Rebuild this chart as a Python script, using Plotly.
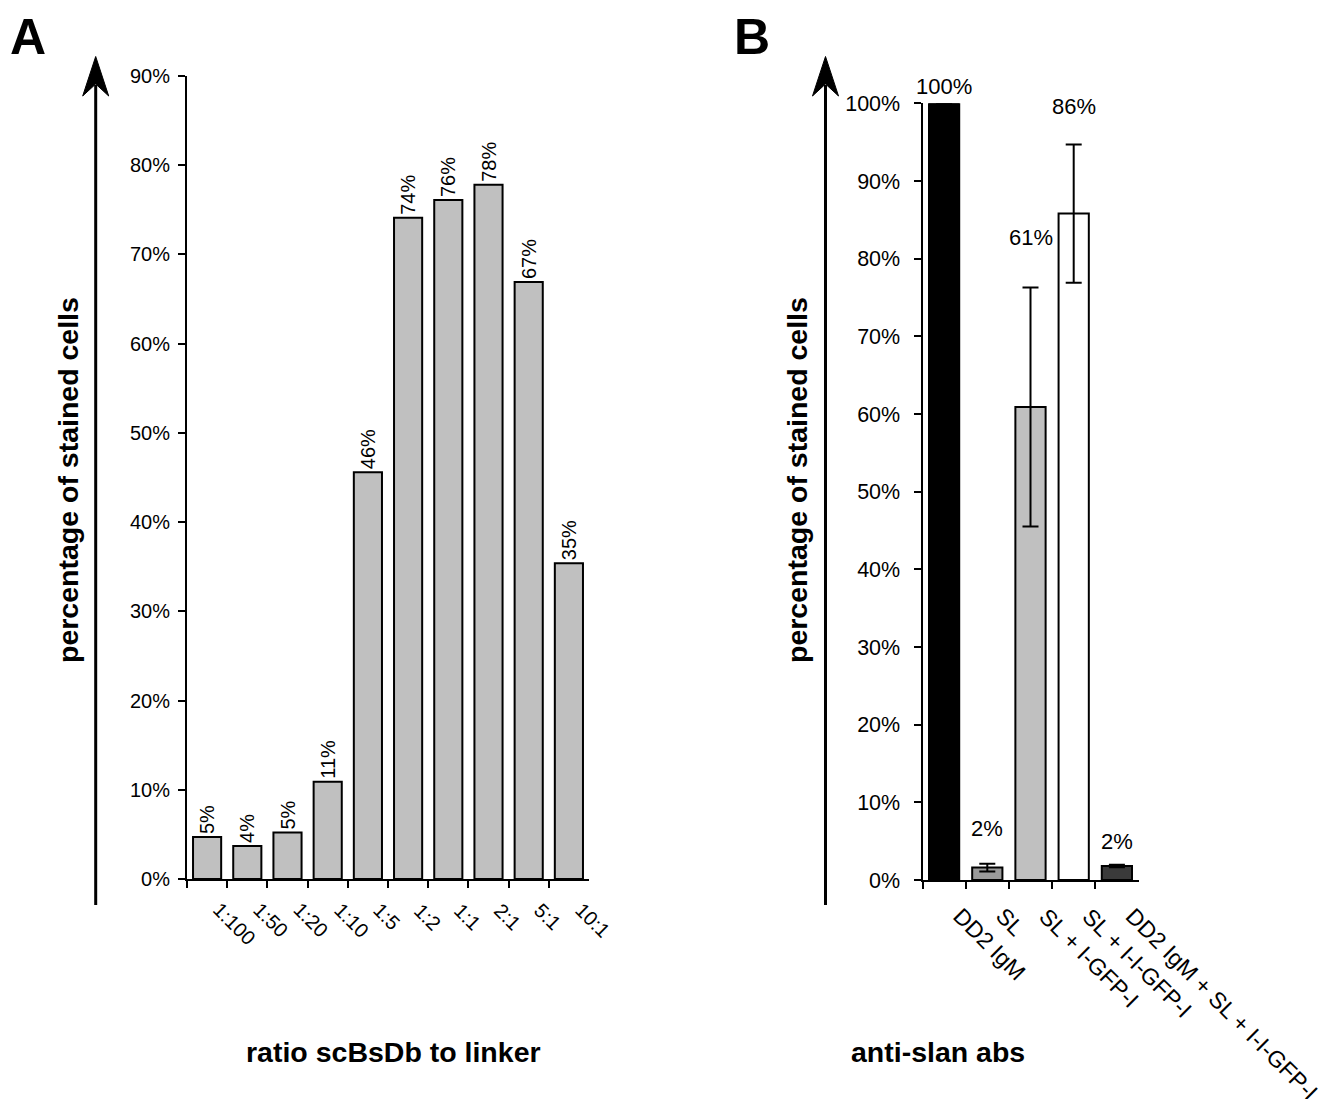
import plotly.graph_objects as go

# page body has an 8px default margin; the figure is sized/offset for it
OFF = 8
FW, FH = 1332 - 2 * OFF, 1107 - 2 * OFF

# Panel A data
ratios = ["1:100", "1:50", "1:20", "1:10", "1:5", "1:2", "1:1", "2:1", "5:1", "10:1"]
pct_a = [4.7, 3.7, 5.2, 10.9, 45.6, 74.1, 76.1, 77.8, 66.9, 35.4]
labels_a = ["5%", "4%", "5%", "11%", "46%", "74%", "76%", "78%", "67%", "35%"]

# Panel B data
abs_names = ["DD2 IgM", "SL", "SL + I-GFP-I", "SL + I-I-GFP-I", "DD2 IgM + SL + I-I-GFP-I"]
pct_b = [100.0, 1.6, 60.9, 85.8, 1.8]
err_b = [0.0, 0.5, 15.4, 8.9, 0.15]
labels_b = ["100%", "2%", "61%", "86%", "2%"]
colors_b = ["#000000", "#9a9a9a", "#c0c0c0", "#ffffff", "#3a3a3a"]
label_shift_b = [17, 35, 50, 38, 23]

yticks_a = [0, 10, 20, 30, 40, 50, 60, 70, 80, 90]
yticks_b = [0, 10, 20, 30, 40, 50, 60, 70, 80, 90, 100]

FONT = "Arial, Liberation Sans, sans-serif"


def px_x(x):
    return (x - OFF) / FW


def px_y(y):
    return 1 - (y - OFF) / FH


fig = go.Figure()

fig.add_trace(go.Bar(
    x=ratios, y=pct_a, text=labels_a, textposition="outside", textangle=-90,
    constraintext="none", cliponaxis=False,
    textfont=dict(family=FONT, size=20, color="black"),
    marker=dict(color="#c0c0c0", line=dict(color="black", width=2)),
    xaxis="x", yaxis="y", showlegend=False,
))

fig.add_trace(go.Bar(
    x=abs_names, y=pct_b,
    error_y=dict(type="data", array=err_b, visible=True, color="black", thickness=2, width=8),
    marker=dict(color=colors_b, line=dict(color="black", width=2)),
    xaxis="x2", yaxis="y2", showlegend=False,
))

annotations = []
for name, v, e, t, s in zip(abs_names, pct_b, err_b, labels_b, label_shift_b):
    annotations.append(dict(
        x=name, y=v + e, xref="x2", yref="y2", text=t, showarrow=False,
        xanchor="center", yanchor="middle", yshift=s,
        font=dict(family=FONT, size=22, color="black"),
    ))

# slanted category labels (drawn as annotations so they can sit like the original)
for r in ratios:
    annotations.append(dict(
        x=r, y=0, xref="x", yref="y", text=r, showarrow=False, textangle=45,
        xanchor="left", yanchor="top", xshift=-1, yshift=-17,
        font=dict(family=FONT, size=20, color="black"),
    ))
for n in abs_names:
    annotations.append(dict(
        x=n, y=0, xref="x2", yref="y2", text=n, showarrow=False, textangle=45,
        xanchor="left", yanchor="top", xshift=1, yshift=-20,
        font=dict(family=FONT, size=23, color="black"),
    ))


def paper_text(x, y, text, size, angle=0):
    return dict(x=px_x(x), y=px_y(y), xref="paper", yref="paper", text=text,
                textangle=angle, showarrow=False, xanchor="center", yanchor="middle",
                font=dict(family=FONT, size=size, color="black"))


annotations += [
    paper_text(28, 37, "<b>A</b>", 50),
    paper_text(752, 37, "<b>B</b>", 50),
    paper_text(68, 480, "<b>percentage of stained cells</b>", 28.5, -90),
    paper_text(797, 480, "<b>percentage of stained cells</b>", 28.5, -90),
    paper_text(393, 1052, "<b>ratio scBsDb to linker</b>", 28.5),
    paper_text(938, 1052, "<b>anti-slan abs</b>", 28.5),
]

# arrows beside the y axes (line + notched head)
shapes = []
for ax_x in (95.7, 825.5):
    shapes.append(dict(type="line", xref="paper", yref="paper",
                       x0=px_x(ax_x), x1=px_x(ax_x), y0=px_y(905), y1=px_y(85),
                       line=dict(color="black", width=3)))
    path = (f"M {px_x(ax_x)},{px_y(56.5)} "
            f"L {px_x(ax_x - 13)},{px_y(96)} "
            f"L {px_x(ax_x)},{px_y(84)} "
            f"L {px_x(ax_x + 13)},{px_y(96)} Z")
    shapes.append(dict(type="path", xref="paper", yref="paper", path=path,
                       fillcolor="black", line=dict(color="black", width=1)))

axis_common = dict(showline=True, linecolor="black", linewidth=2, ticks="outside",
                   tickcolor="black", tickwidth=2, ticklen=7, showgrid=False,
                   zeroline=False, automargin=False)

fig.update_layout(
    width=FW, height=FH,
    margin=dict(l=0, r=0, t=0, b=0),
    plot_bgcolor="white", paper_bgcolor="white",
    bargap=0.3,
    font=dict(family=FONT, color="black"),
    xaxis=dict(domain=[px_x(187), px_x(589)], anchor="y", tickson="boundaries",
               range=[-0.5, len(ratios) - 0.5], autorange=False,
               showticklabels=False, **axis_common),
    yaxis=dict(domain=[px_y(879), px_y(76)], anchor="x", range=[0, 90], autorange=False,
               tickvals=yticks_a, ticktext=[f"{v}%" for v in yticks_a], ticklabelstandoff=4,
               tickfont=dict(family=FONT, size=20), **axis_common),
    xaxis2=dict(domain=[px_x(922.5), px_x(1138.5)], anchor="y2", tickson="boundaries",
                range=[-0.5, len(abs_names) - 0.5], autorange=False,
                showticklabels=False, **axis_common),
    yaxis2=dict(domain=[px_y(880), px_y(103.3)], anchor="x2", range=[0, 100], autorange=False,
                tickvals=yticks_b, ticktext=[f"{v}%" for v in yticks_b], ticklabelstandoff=9,
                tickfont=dict(family=FONT, size=21.5), **axis_common),
    annotations=annotations,
    shapes=shapes,
)

fig.write_html("out.html")
